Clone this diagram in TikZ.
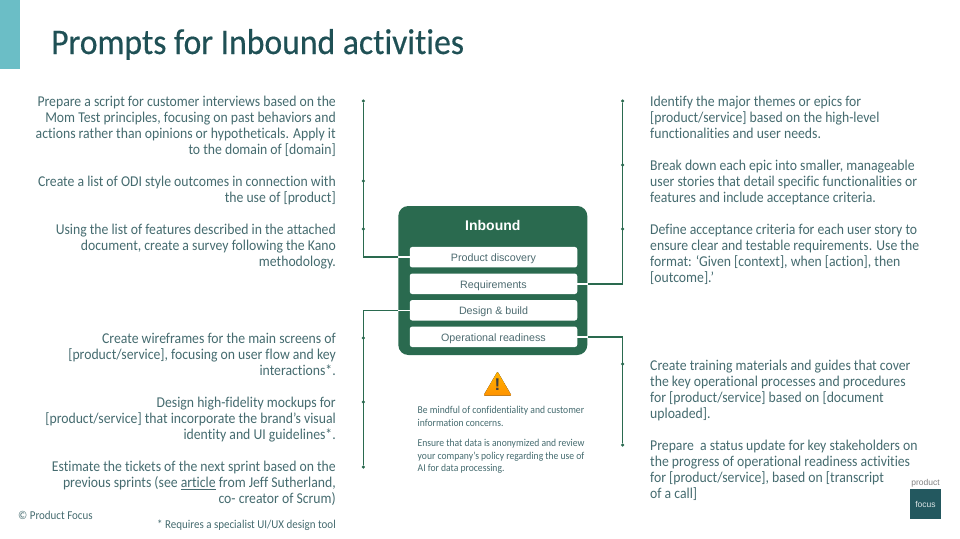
\documentclass[tikz,border=0pt]{standalone}
\usepackage{fontspec}
\usepackage{xcolor}
\setmainfont[FakeStretch=0.915,Ligatures=NoCommon]{Carlito}
\newfontfamily\titlefont[FakeStretch=0.935,FakeBold=0.4,Ligatures=NoCommon]{Carlito}
\newfontfamily\armfont{Liberation Sans}
\definecolor{pfgreen}{HTML}{2A6A4F}
\definecolor{pftitle}{HTML}{1F5055}
\definecolor{pftext}{HTML}{456B6F}
\definecolor{pfteal}{HTML}{6BBEC6}
\definecolor{pflogo}{HTML}{23585F}
\definecolor{pfrow}{HTML}{4D6B70}
\tikzset{
  lefttext/.style={anchor=north east,align=right,inner sep=0pt,text=pftext,font=\fontsize{15}{16}\selectfont},
  righttext/.style={anchor=north west,align=left,inner sep=0pt,text=pftext,font=\fontsize{15}{16}\selectfont},
  smalltext/.style={anchor=north west,align=left,inner sep=0pt,text=pftext,font=\fontsize{10.5}{12.5}\selectfont},
  rowbox/.style={fill=white,rounded corners=2.5pt,minimum width=167.5pt,minimum height=20.5pt,inner sep=0pt,text height=10pt,text depth=1pt,text=pfrow,font=\armfont\fontsize{10.7}{12}\selectfont},
  tick/.style={circle,fill=pfgreen,minimum size=3.5pt,inner sep=0pt},
  link/.style={draw=pfgreen,line width=1.5pt},
  linkin/.style={draw=white,line width=1.5pt}
}
\begin{document}
\begin{tikzpicture}[x=1pt,y=-1pt]
\useasboundingbox (0,0) rectangle (960,538);
\fill[pfteal] (0,0) rectangle (20,69);
\node[anchor=base west,inner sep=0pt,text=pftitle,font=\titlefont\fontsize{36}{40}\selectfont] (title) at (51,54) {Prompts for Inbound activities};

\node[lefttext] (script) at (336,96) {Prepare a script for customer interviews based on the\\Mom Test principles, focusing on past behaviors and\\actions rather than opinions or hypotheticals. Apply it\\to the domain of [domain]};
\node[lefttext] (odi) at (336,176) {Create a list of ODI style outcomes in connection with\\the use of [product]};
\node[lefttext] (kano) at (336,224) {Using the list of features described in the attached\\document, create a survey following the Kano\\methodology.};
\node[lefttext] (wire) at (336,333) {Create wireframes for the main screens of\\{[}product/service], focusing on user flow and key\\interactions*.};
\node[lefttext] (mock) at (336,397) {Design high-fidelity mockups for\\{[}product/service] that incorporate the brand’s visual\\identity and UI guidelines*.};
\node[lefttext] (tickets) at (336,461) {Estimate the tickets of the next sprint based on the\\previous sprints (see \underline{article} from Jeff Sutherland,\\co- creator of Scrum)};
\node[anchor=east,inner sep=0pt,text=pftext,font=\fontsize{12}{13}\selectfont] (needs) at (336,525) {* Requires a specialist UI/UX design tool};
\node[anchor=west,inner sep=0pt,text=pftext,font=\fontsize{12}{14}\selectfont] (copy) at (18,515) {© Product Focus};

\node[righttext] (themes) at (650,96) {Identify the major themes or epics for\\{[}product/service] based on the high-level\\functionalities and user needs.};
\node[righttext] (epic) at (650,160) {Break down each epic into smaller, manageable\\user stories that detail specific functionalities or\\features and include acceptance criteria.};
\node[righttext] (accept) at (650,224) {Define acceptance criteria for each user story to\\ensure clear and testable requirements. Use the\\format: ‘Given [context], when [action], then\\{[}outcome].’};
\node[righttext] (training) at (650,360) {Create training materials and guides that cover\\the key operational processes and procedures\\for [product/service] based on [document\\uploaded].};
\node[righttext] (status) at (650,440) {Prepare\ \ a status update for key stakeholders on\\the progress of operational readiness activities\\for [product/service], based on [transcript\\of a call]};

\node[fill=pfgreen,rounded corners=10pt,minimum width=189pt,minimum height=149pt,inner sep=0pt] (inbound) at (492.8,280.5) {};
\node[text=white,inner sep=0pt,font=\armfont\bfseries\fontsize{14}{16}\selectfont] (head) at (492.8,225.5) {Inbound};
\node[rowbox] (discovery) at (493.5,257.2) {Product discovery};
\node[rowbox] (reqs) at (493.5,283.8) {Requirements};
\node[rowbox] (design) at (493.5,310.3) {Design \& build};
\node[rowbox] (ops) at (493.5,336.8) {Operational readiness};

\node[tick] (a1) at (363.3,101) {};
\node[tick] (a2) at (363.3,181) {};
\node[tick] (a3) at (363.3,229) {};
\coordinate (a4) at (363.3,257.2);
\node[tick] (b1) at (622.7,101) {};
\node[tick] (b2) at (622.7,165) {};
\node[tick] (b3) at (622.7,229) {};
\coordinate (b4) at (622.7,283.8);
\coordinate (c1) at (363.3,310.3);
\node[tick] (c2) at (363.3,338) {};
\node[tick] (c3) at (363.3,402) {};
\node[tick] (c4) at (363.3,467) {};
\coordinate (d1) at (622.7,336.8);
\node[tick] (d2) at (622.7,364) {};
\node[tick] (d3) at (622.7,445) {};

\draw[link] (a1)--(a4)--(inbound.west |- a4);
\draw[link] (b1)--(b4)--(inbound.east |- b4);
\draw[link] (c4)--(c1)--(inbound.west |- c1);
\draw[link] (d3)--(d1)--(inbound.east |- d1);
\draw[linkin] (inbound.west |- a4)--(discovery.west);
\draw[linkin] (inbound.east |- b4)--(reqs.east);
\draw[linkin] (inbound.west |- c1)--(design.west);
\draw[linkin] (inbound.east |- d1)--(ops.east);

\fill[top color=orange!60!yellow,bottom color=orange!85!yellow,rounded corners=1pt] (497.5,371.5)--(511.5,395.5)--(483.5,395.5)--cycle;
\node[inner sep=0pt,text=black!75,font=\armfont\bfseries\fontsize{17}{17}\selectfont] (alert) at (497.5,385) {!};

\node[smalltext] (mindful) at (417.5,406.5) {Be mindful of confidentiality and customer\\information concerns.};
\node[smalltext] (ensure) at (417.5,439.5) {Ensure that data is anonymized and review\\your company’s policy regarding the use of\\AI for data processing.};

\node[fill=pflogo,minimum width=30.5pt,minimum height=30pt,inner sep=0pt,text=white!85!pflogo,font=\armfont\fontsize{8.5}{10}\selectfont] (focus) at (925.5,504) {focus};
\node[anchor=south,inner sep=0pt,text=black!50,font=\armfont\fontsize{8.5}{10}\selectfont] (product) at (925.5,487) {product};
\end{tikzpicture}
\end{document}
